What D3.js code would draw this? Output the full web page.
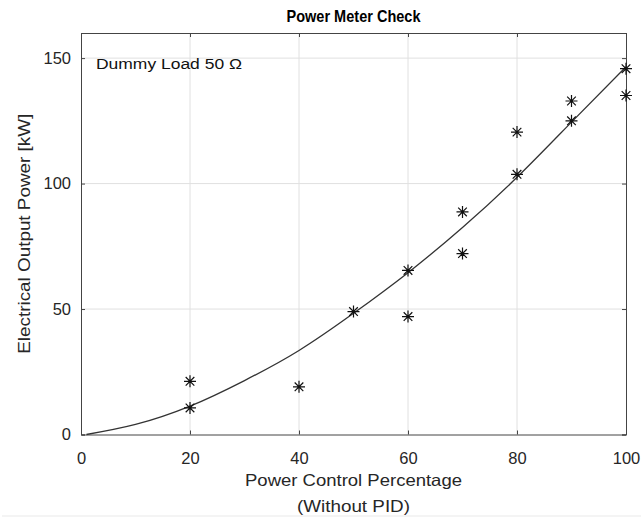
<!DOCTYPE html>
<html>
<head>
<meta charset="utf-8">
<script src="https://cdn.jsdelivr.net/npm/d3@7"></script>
<style>
  body { margin: 0; background: #fff; }
  svg { display: block; font-family: "Liberation Sans", Arial, sans-serif; }
</style>
</head>
<body>
<div id="chart"></div>
<script>
// measured points: power control % vs electrical output power (kW)
const pctX = [20, 20, 40, 50, 60, 60, 70, 70, 80, 80, 90, 90, 100, 100];
const powerKW = [21.2, 10.6, 19, 49, 65.4, 47, 88.7, 72.1, 120.5, 103.7, 132.9, 125, 145.8, 135.1];

// fitted curve
const fitPct = [1, 10, 20, 30, 40, 50, 60, 70, 80, 90, 100];
const fitKW = [0, 4, 11.3, 21.5, 33.5, 48.3, 64.5, 82.5, 102.5, 124.5, 146.5];

const xTicks = [0, 20, 40, 60, 80, 100];
const yTicks = [0, 50, 100, 150];

const width = 641, height = 519;
const margin = { top: 33, right: 15, bottom: 84.5, left: 81 };
const plotW = width - margin.left - margin.right;
const plotH = height - margin.top - margin.bottom;

const svg = d3.select("#chart").append("svg")
    .attr("width", width)
    .attr("height", height);

const x = d3.scaleLinear().domain([0, 100]).range([margin.left, margin.left + plotW]);
const y = d3.scaleLinear().domain([0, 160]).range([margin.top + plotH, margin.top]);

// grid
svg.append("g").selectAll("line")
    .data(xTicks.slice(1, -1))
    .join("line")
    .attr("x1", d => x(d)).attr("x2", d => x(d))
    .attr("y1", y(0)).attr("y2", y(160))
    .attr("stroke", "#e0e0e0").attr("stroke-width", 1);

svg.append("g").selectAll("line")
    .data(yTicks.slice(1))
    .join("line")
    .attr("x1", x(0)).attr("x2", x(100))
    .attr("y1", d => y(d)).attr("y2", d => y(d))
    .attr("stroke", "#e0e0e0").attr("stroke-width", 1);

// axes (ticks pointing inward, box style)
const tickLen = 4;
const xAxis = d3.axisBottom(x).tickValues(xTicks).tickSize(-tickLen).tickPadding(18);
const yAxis = d3.axisLeft(y).tickValues(yTicks).tickSize(-tickLen).tickPadding(10);

svg.append("g").attr("transform", `translate(0,${y(0)})`).call(xAxis);
svg.append("g").attr("transform", `translate(${x(0)},0)`).call(yAxis);
svg.append("g").attr("transform", `translate(0,${y(160)})`)
    .call(d3.axisTop(x).tickValues(xTicks).tickSize(-tickLen).tickFormat(""));
svg.append("g").attr("transform", `translate(${x(100)},0)`)
    .call(d3.axisRight(y).tickValues(yTicks).tickSize(-tickLen).tickFormat(""));

svg.selectAll(".domain").attr("stroke", "#444");
svg.selectAll(".tick line").attr("stroke", "#444");
svg.selectAll(".tick text")
    .attr("font-size", 16.5)
    .attr("fill", "#262626")
    .attr("font-family", "Liberation Sans, Arial, sans-serif");

// fitted curve
const line = d3.line()
    .x((d, i) => x(fitPct[i]))
    .y(d => y(d))
    .curve(d3.curveNatural);

svg.append("path")
    .datum(fitKW)
    .attr("d", line)
    .attr("fill", "none")
    .attr("stroke", "#333")
    .attr("stroke-width", 1.3);

// asterisk markers
const r = 6, rd = r * 0.72;
const star = `M${-r},0H${r}M0,${-r}V${r}M${-rd},${-rd}L${rd},${rd}M${-rd},${rd}L${rd},${-rd}`;
svg.append("g").selectAll("path")
    .data(pctX)
    .join("path")
    .attr("transform", (d, i) => `translate(${x(d)},${y(powerKW[i])})`)
    .attr("d", star)
    .attr("stroke", "#111")
    .attr("stroke-width", 1.2)
    .attr("fill", "none");

// texts (slightly wide lettering as in the original)
function label(txt, size, len) {
    return svg.append("text")
        .attr("font-size", size)
        .attr("fill", "#262626")
        .attr("textLength", len)
        .attr("lengthAdjust", "spacingAndGlyphs")
        .text(txt);
}

label("Power Meter Check", 16.5, 134)
    .attr("x", x(50) - 67).attr("y", 22)
    .attr("font-weight", "bold")
    .attr("fill", "#000");

label("Dummy Load 50 Ω", 15.5, 146)
    .attr("x", 96).attr("y", 69)
    .attr("fill", "#111");

label("Power Control Percentage", 16.5, 217)
    .attr("x", x(50) - 108.5).attr("y", 486);

label("(Without PID)", 16.5, 113)
    .attr("x", x(50) - 56.5).attr("y", 512);

label("Electrical Output Power [kW]", 16.5, 240)
    .attr("transform", `translate(30,${(y(0) + y(160)) / 2 + 120}) rotate(-90)`);

// faint edge line at the bottom
svg.append("line")
    .attr("x1", 2).attr("x2", width)
    .attr("y1", 516).attr("y2", 516)
    .attr("stroke", "#f0f0f0").attr("stroke-width", 1.5);
</script>
</body>
</html>
